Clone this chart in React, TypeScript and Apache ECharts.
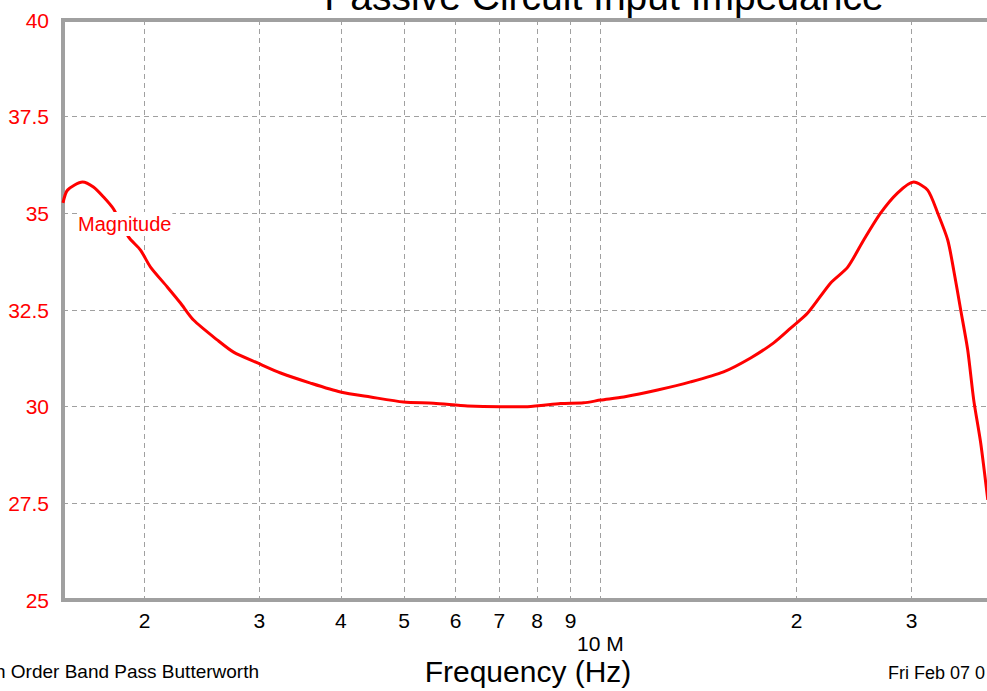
import { useEffect, useRef } from "react";
import * as echarts from "echarts";

// Frequency in MHz
const freqMHz = [
  1.5, 1.524, 1.607, 1.67, 1.731, 1.793,
  1.89, 1.972, 2.043, 2.169, 2.271, 2.378,
  2.588, 2.739, 2.981, 3.234, 3.594, 3.996,
  4.443, 4.992, 5.551, 6.258, 7.031, 7.733,
  8.69, 9.426, 10.01, 10.86, 12.24, 13.75,
  15.45, 17.0, 18.44, 19.58, 20.79, 22.55,
  23.95, 25.34, 26.91, 28.57, 30.23, 31.76,
  32.9, 34.09, 34.82, 35.69, 36.58, 37.37,
  38.3, 39.27,
];
// Input impedance magnitude (ohms)
const magnitude = [
  35.27, 35.6, 35.81, 35.68, 35.42, 35.11,
  34.39, 34.05, 33.61, 33.09, 32.68, 32.24,
  31.72, 31.41, 31.13, 30.87, 30.61, 30.38,
  30.25, 30.12, 30.09, 30.02, 30.0, 30.0,
  30.08, 30.1, 30.17, 30.25, 30.43, 30.64,
  30.9, 31.26, 31.65, 32.03, 32.42, 33.2,
  33.61, 34.31, 35.01, 35.53, 35.81, 35.6,
  35.01, 34.31, 33.53, 32.5, 31.47, 30.17,
  29.06, 27.59,
];
const xTickValues = [2, 3, 4, 5, 6, 7, 8, 9, 10, 20, 30, 40];

const titleText = "Passive Circuit Input Impedance";
const xAxisName = "Frequency (Hz)";
const seriesName = "Magnitude";
const footLeft = "h Order Band Pass Butterworth";
const footRight = "Fri Feb 07 0";

const FONT = '"Liberation Sans", Arial, sans-serif';

export default function App() {
  const ref = useRef<HTMLDivElement>(null);
  useEffect(() => {
    if (!ref.current) return;
    const chart = echarts.init(ref.current, undefined, { renderer: "svg" });
    const data = freqMHz.map((f, i) => [f, magnitude[i]]);
    chart.setOption({
      animation: false,
      backgroundColor: "#ffffff",
      textStyle: { fontFamily: FONT },
      grid: {
        left: 63,
        top: 20,
        right: -6,
        bottom: 91,
        show: true,
        borderColor: "#a0a0a0",
        borderWidth: 4,
        backgroundColor: "transparent",
        outerBoundsMode: "none",
        containLabel: false,
      },
      xAxis: {
        type: "log",
        logBase: 10,
        min: 1.5,
        max: 40,
        axisLine: { show: false },
        axisTick: { show: false, customValues: xTickValues },
        axisLabel: {
          customValues: xTickValues,
          formatter: (v: number) => {
            const r = Math.round(v);
            if (r === 10) return "\n10 M";
            return String(r >= 20 ? r / 10 : r);
          },
          color: "#000000",
          fontSize: 21,
          fontFamily: FONT,
          margin: 9,
          lineHeight: 23,
        },
        splitLine: {
          show: true,
          lineStyle: { color: "#a0a0a0", type: [5, 4], width: 1 },
        },
        minorSplitLine: { show: false },
      },
      yAxis: {
        type: "value",
        min: 25,
        max: 40,
        interval: 2.5,
        axisLine: { show: false },
        axisTick: { show: false },
        axisLabel: {
          color: "#ff0000",
          fontSize: 21,
          fontFamily: FONT,
          margin: 14,
        },
        splitLine: {
          show: true,
          lineStyle: { color: "#a0a0a0", type: [5, 4], width: 1 },
        },
      },
      series: [
        {
          name: seriesName,
          type: "line",
          data,
          showSymbol: false,
          symbol: "none",
          smooth: 0.25,
          clip: true,
          lineStyle: { color: "#ff0000", width: 3 },
          z: 3,
        },
      ],
      graphic: [
        {
          type: "text",
          z: 100,
          x: 604,
          y: -4,
          style: {
            text: titleText,
            fill: "#000000",
            font: `39px ${FONT}`,
            textAlign: "center",
            textVerticalAlign: "middle",
          },
        },
        {
          type: "text",
          z: 100,
          x: 528,
          y: 671,
          style: {
            text: xAxisName,
            fill: "#000000",
            font: `30px ${FONT}`,
            textAlign: "center",
            textVerticalAlign: "middle",
          },
        },
        {
          type: "text",
          z: 100,
          x: 77,
          y: 224,
          style: {
            text: seriesName,
            fill: "#ff0000",
            font: `20px ${FONT}`,
            textAlign: "left",
            textVerticalAlign: "middle",
            backgroundColor: "#ffffff",
            padding: [2, 1, 2, 1],
          },
        },
        {
          type: "text",
          z: 100,
          x: -5,
          y: 671,
          style: {
            text: footLeft,
            fill: "#000000",
            font: `19px ${FONT}`,
            textAlign: "left",
            textVerticalAlign: "middle",
          },
        },
        {
          type: "text",
          z: 100,
          x: 888,
          y: 673,
          style: {
            text: footRight,
            fill: "#000000",
            font: `18px ${FONT}`,
            textAlign: "left",
            textVerticalAlign: "middle",
          },
        },
      ],
    });
    return () => chart.dispose();
  }, []);
  return <div ref={ref} style={{ width: 987, height: 691, position: "absolute", left: 0, top: 0 }} />;
}
